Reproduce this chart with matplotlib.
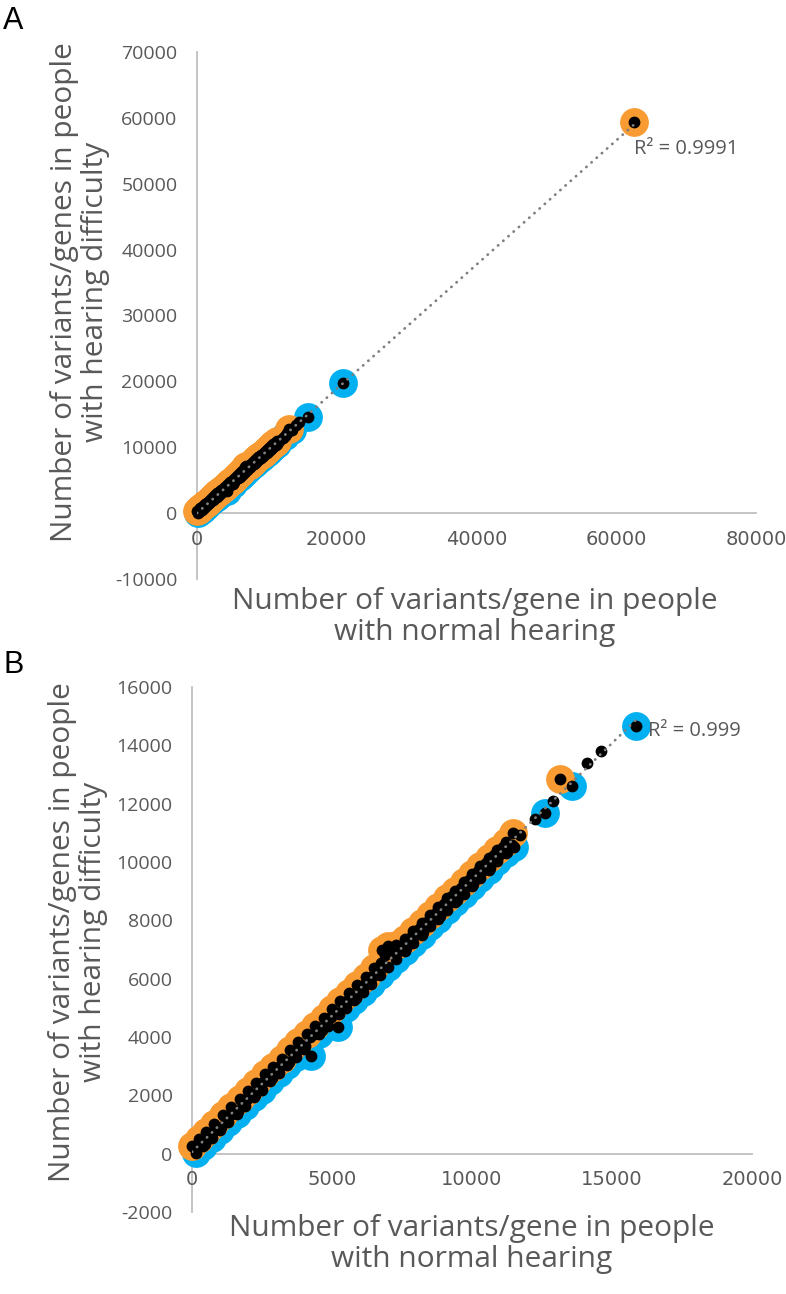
import matplotlib
matplotlib.use("Agg")
import matplotlib.pyplot as plt
import numpy as np

# ---------------- data ----------------
# genes with more variants in people with hearing difficulty (orange)
orange_x = [0, 250, 500, 800, 1100, 1400, 1700, 2000, 2300, 2600, 2900, 3200, 3500,
            3800, 4100, 4400, 4700, 5000, 5300, 5600, 5900, 6200, 6500, 6800, 7000,
            7300, 7600, 7900, 8200, 8500, 8800, 9100, 9400, 9700, 10000, 10300,
            10600, 10900, 11200, 11480, 13140]
orange_y = [250, 520, 760, 1030, 1320, 1600, 1870, 2150, 2420, 2720, 2980, 3260, 3540,
            3830, 4100, 4380, 4660, 4950, 5220, 5500, 5780, 6050, 6380, 6980, 7120,
            7150, 7350, 7620, 7920, 8190, 8470, 8760, 9020, 9300, 9590, 9860,
            10150, 10420, 10700, 11000, 12830]

# genes with more variants in people with normal hearing (blue)
blue_x = [150, 400, 700, 1000, 1300, 1600, 1900, 2200, 2500, 2800, 3100, 3400, 3700,
          4000, 4250, 4550, 4850, 5200, 5500, 5800, 6100, 6400, 6700, 7000, 7300,
          7600, 7900, 8200, 8500, 8800, 9100, 9400, 9700, 10000, 10300, 10600,
          10900, 11200, 11500, 12610, 13560, 15850]
blue_y = [40, 250, 530, 810, 1090, 1370, 1650, 1930, 2200, 2480, 2760, 3040, 3320,
          3600, 3350, 4110, 4390, 4350, 4990, 5270, 5550, 5830, 6110, 6390, 6670,
          6950, 7230, 7510, 7790, 8060, 8340, 8620, 8900, 9180, 9460, 9740,
          10020, 10300, 10500, 11690, 12600, 14660]

# other genes (black dots only)
other_x = [150, 450, 750, 1050, 1350, 1650, 1950, 2250, 2550, 2850, 3150, 3450, 3750,
           4050, 4350, 4650, 4950, 5250, 5550, 5850, 6150, 6450, 6750, 7050, 7350,
           7650, 7950, 8250, 8550, 8850, 9150, 9450, 9750, 10050, 10350, 10650,
           10950, 11250, 11420, 11710, 12250, 12900, 14110, 14590]
other_y = [140, 330, 760, 930, 1330, 1480, 1880, 2020, 2460, 2600, 3020, 3150, 3560,
           3700, 4120, 4250, 4700, 4800, 5250, 5350, 5800, 6100, 6550, 7000, 6950,
           7050, 7500, 7600, 8050, 8150, 8600, 8700, 9150, 9250, 9700, 9800,
           10250, 10350, 10600, 10940, 11480, 12090, 13410, 13800]
other2_x = [300, 600, 900, 1200, 1500, 1800, 2100, 2400, 2700, 3000, 3300, 3600, 3900,
            4200, 4500, 4800, 5100, 5400, 5700, 6000, 6300, 6600, 6900, 7200, 7500,
            7800, 8100, 8400, 8700, 9000, 9300, 9600, 9900, 10200, 10500, 10800, 11100]
other2_y = [360, 640, 900, 1200, 1480, 1760, 2040, 2330, 2600, 2880, 3170, 3440, 3740,
            4000, 4300, 4560, 4850, 5130, 5400, 5700, 6000, 6300, 6800, 7000, 7120,
            7400, 7700, 7960, 8250, 8550, 8820, 9100, 9400, 9680, 9960, 10250, 10520]

# extra large genes present only in panel A
extra_orange_x = [62570]
extra_orange_y = [59330]
extra_blue_x = [20860]
extra_blue_y = [19730]

xticks_A = [0, 20000, 40000, 60000, 80000]
yticks_A = [-10000, 0, 10000, 20000, 30000, 40000, 50000, 60000, 70000]
xticks_B = [0, 5000, 10000, 15000, 20000]
yticks_B = [-2000, 0, 2000, 4000, 6000, 8000, 10000, 12000, 14000, 16000]
r2_A = "R² = 0.9991"
r2_B = "R² = 0.999"
xlabel = "Number of variants/gene in people\nwith normal hearing"
ylabel = "Number of variants/genes in people\nwith hearing difficulty"

# ---------------- style ----------------
ORANGE = "#F89B32"
BLUE = "#00B0F0"
GRAY_TXT = "#595959"
SPINE = "#BFBFBF"
FONT = "Open Sans"

W, H = 786, 1294
fig = plt.figure(figsize=(W / 100, H / 100), dpi=100)


def px_axes(left, right, top, bottom):
    return fig.add_axes([left / W, 1 - bottom / H, (right - left) / W, (bottom - top) / H])


def panel(ax, ox, oy, bx, by, kx, ky, xticks, yticks, r2, r2_off):
    ox, oy, bx, by, kx, ky = map(np.asarray, (ox, oy, bx, by, kx, ky))
    ax.scatter(bx, by, s=430, c=BLUE, linewidths=0, zorder=2, clip_on=False)
    ax.scatter(ox, oy, s=430, c=ORANGE, linewidths=0, zorder=3, clip_on=False)
    allx = np.concatenate([ox, bx, kx])
    ally = np.concatenate([oy, by, ky])
    ax.scatter(allx, ally, s=72, c="black", linewidths=0, zorder=4, clip_on=False)
    coef = np.polyfit(allx, ally, 1)
    xs = np.array([allx.min(), allx.max()])
    ax.plot(xs, np.polyval(coef, xs), ls=(0, (0.1, 2.4)), lw=2.0, color="#808080",
            dash_capstyle="round", zorder=5)
    ax.annotate(r2, xy=(xs[-1], np.polyval(coef, xs[-1])), xytext=r2_off,
                textcoords="offset points", ha="left", va="center",
                fontsize=14.5, color=GRAY_TXT, family=FONT, zorder=6)
    ax.set_xlim(xticks[0], xticks[-1])
    ax.set_ylim(yticks[0], yticks[-1])
    ax.set_xticks(xticks)
    ax.set_yticks(yticks)
    ax.set_xticklabels([str(t) for t in xticks], family=FONT)
    ax.set_yticklabels([str(t) for t in yticks], family=FONT)
    ax.spines[["top", "right"]].set_visible(False)
    ax.spines["bottom"].set_position(("data", 0))
    for s in ("left", "bottom"):
        ax.spines[s].set_color(SPINE)
        ax.spines[s].set_linewidth(1.3)
        ax.spines[s].set_zorder(1)
    ax.tick_params(length=0, labelsize=14, labelcolor=GRAY_TXT)
    ax.tick_params(axis="y", pad=14)
    ax.tick_params(axis="x", pad=12)
    ax.patch.set_alpha(0)


other_all_x = other_x + other2_x
other_all_y = other_y + other2_y

axA = px_axes(197, 756, 52, 579)
panel(axA, orange_x + extra_orange_x, orange_y + extra_orange_y,
      blue_x + extra_blue_x, blue_y + extra_blue_y, other_all_x, other_all_y,
      xticks_A, yticks_A, r2_A, (0, -18))

axB = px_axes(192, 752, 687, 1212)
panel(axB, orange_x, orange_y, blue_x, blue_y, other_all_x, other_all_y,
      xticks_B, yticks_B, r2_B, (9, -8))

# panel letters
fig.text(3 / W, 1 - 29 / H, "A", fontsize=22, family="Liberation Sans", va="baseline", ha="left")
fig.text(3 / W, 1 - 673 / H, "B", fontsize=22, family="Liberation Sans", va="baseline", ha="left")

# axis titles
for xc, yc in ((475, 617), (472, 1244)):
    fig.text(xc / W, 1 - yc / H, xlabel, ha="center", va="center", multialignment="center",
             fontsize=21.5, color=GRAY_TXT, family=FONT, linespacing=1.05)
for xc, yc in ((80, 292), (78, 932)):
    fig.text(xc / W, 1 - yc / H, ylabel, ha="center", va="center", multialignment="center",
             rotation=90, fontsize=21.5, color=GRAY_TXT, family=FONT, linespacing=1.05)

fig.savefig("out.png", dpi=100)
